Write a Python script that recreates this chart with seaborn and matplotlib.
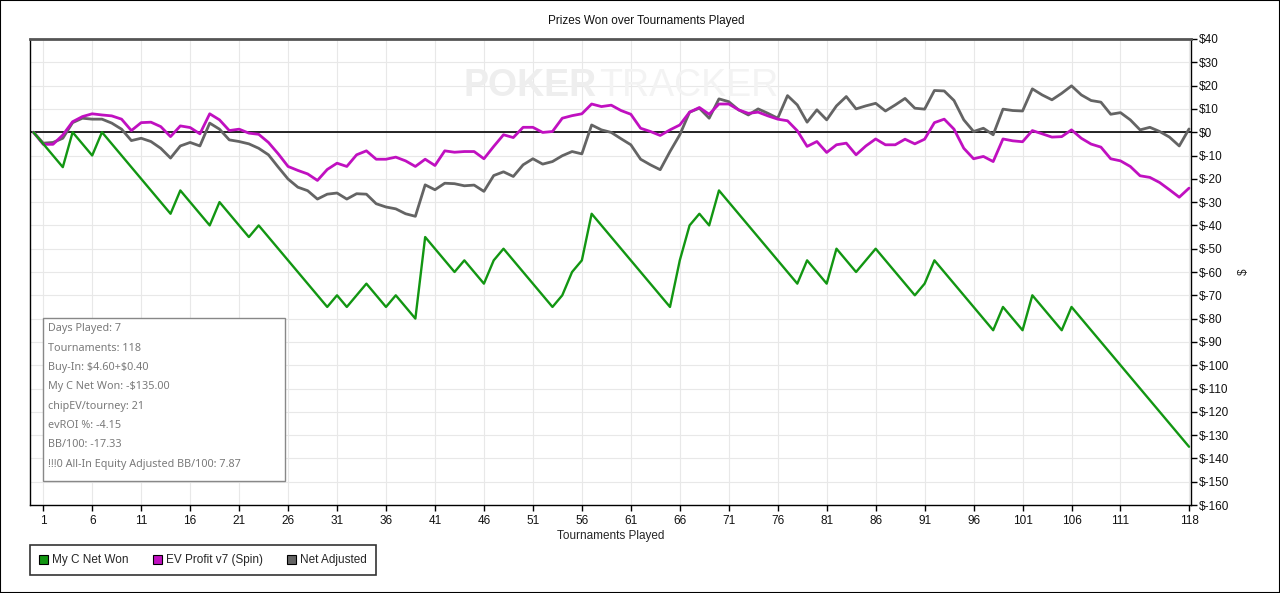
import matplotlib
matplotlib.use("Agg")
import matplotlib.pyplot as plt
from matplotlib.patches import Patch, Rectangle
from matplotlib.ticker import FuncFormatter
import seaborn as sns
import numpy as np
import pandas as pd

# tournament index (0 = start)
tournaments = list(range(0, 119))

# My C Net Won
net_won = [0, -5, -10, -15, 0, -5, -10, 0, -5, -10,
           -15, -20, -25, -30, -35, -25, -30, -35, -40, -30,
           -35, -40, -45, -40, -45, -50, -55, -60, -65, -70,
           -75, -70, -75, -70, -65, -70, -75, -70, -75, -80,
           -45, -50, -55, -60, -55, -60, -65, -55, -50, -55,
           -60, -65, -70, -75, -70, -60, -55, -35, -40, -45,
           -50, -55, -60, -65, -70, -75, -55, -40, -35, -40,
           -25, -30, -35, -40, -45, -50, -55, -60, -65, -55,
           -60, -65, -50, -55, -60, -55, -50, -55, -60, -65,
           -70, -65, -55, -60, -65, -70, -75, -80, -85, -75,
           -80, -85, -70, -75, -80, -85, -75, -80, -85, -90,
           -95, -100, -105, -110, -115, -120, -125, -130, -135]

# EV Profit v7 (Spin)
ev_profit = [0, -5.2, -5.2, -1.2, 4.5, 6.7, 7.9, 7.4, 7.0, 5.6,
             0.7, 4.1, 4.3, 2.4, -1.9, 2.7, 2.0, -0.7, 7.9, 5.3,
             0.7, 1.3, -0.4, -0.9, -4.4, -9.3, -14.7, -16.4, -17.9, -20.7,
             -16.0, -13.3, -14.7, -9.7, -8.0, -11.6, -11.6, -10.7, -12.3, -14.7,
             -11.6, -14.3, -8.0, -8.6, -8.3, -8.3, -11.4, -6.1, -1.1, -2.3,
             2.1, 2.1, -0.1, 0.3, 6.0, 7.1, 7.9, 12.1, 11.0, 11.6,
             9.3, 7.7, 1.7, 0.3, -1.4, 1.0, 3.1, 8.6, 10.6, 7.7,
             12.1, 12.1, 9.6, 8.1, 8.6, 7.0, 5.6, 4.9, 0.6, -6.1,
             -4.0, -8.7, -5.4, -4.7, -9.7, -5.9, -2.9, -5.4, -5.4, -3.0,
             -5.0, -3.0, 4.1, 5.6, 1.3, -6.9, -11.4, -10.4, -12.6, -2.9,
             -3.7, -4.1, 0.7, -0.7, -2.1, -1.9, 1.0, -2.6, -5.1, -6.4,
             -11.4, -12.3, -14.7, -18.7, -19.4, -21.6, -24.7, -27.9, -24.0]

# Net Adjusted
net_adjusted = [0, -4.7, -4.4, -2.6, 4.1, 6.0, 5.6, 5.6, 3.9, 1.3,
                -3.6, -2.6, -4.0, -6.9, -11.1, -5.9, -4.4, -5.9, 3.9, 1.3,
                -3.3, -4.0, -5.0, -6.9, -9.7, -15.0, -20.1, -23.6, -25.1, -28.7,
                -26.6, -26.1, -28.7, -26.4, -26.6, -30.7, -32.1, -32.9, -35.0, -36.1,
                -22.6, -24.7, -21.9, -22.1, -23.0, -22.7, -25.4, -18.6, -17.0, -19.0,
                -14.0, -11.4, -13.7, -12.6, -10.1, -8.3, -9.3, 3.1, 1.0, -0.1,
                -2.8, -5.4, -11.6, -14.0, -16.1, -8.3, -1.1, 8.6, 10.3, 6.0,
                14.3, 13.1, 9.6, 7.4, 10.0, 8.1, 6.0, 15.7, 11.7, 4.3,
                9.6, 5.3, 11.3, 15.3, 10.0, 11.3, 12.4, 9.1, 11.7, 14.5,
                10.3, 9.9, 17.9, 17.7, 13.6, 5.3, 0.3, 1.7, -1.1, 9.9,
                9.3, 9.1, 18.6, 16.0, 13.9, 16.7, 19.9, 16.0, 13.6, 12.9,
                7.7, 8.4, 5.3, 1.0, 2.1, 0.3, -2.1, -5.9, 1.4]

series_names = ["My C Net Won", "EV Profit v7 (Spin)", "Net Adjusted"]
series_colors = ["#129612", "#c010c0", "#646464"]

x_ticks = [1, 6, 11, 16, 21, 26, 31, 36, 41, 46, 51, 56, 61, 66, 71, 76,
           81, 86, 91, 96, 101, 106, 111, 118]
y_ticks = list(range(-160, 41, 10))

stats_lines = ["Days Played: 7", "Tournaments: 118", "Buy-In: $4.60+$0.40",
               "My C Net Won: -$135.00", "chipEV/tourney: 21", "evROI %: -4.15",
               "BB/100: -17.33", "!!!0 All-In Equity Adjusted BB/100: 7.87"]

df = pd.DataFrame({"Tournament": tournaments,
                   "My C Net Won": net_won,
                   "EV Profit v7 (Spin)": ev_profit,
                   "Net Adjusted": net_adjusted})

sns.set_style("whitegrid")
plt.rcParams["font.family"] = ["Liberation Sans", "DejaVu Sans"]

W, H = 1280, 593
fig = plt.figure(figsize=(W / 100, H / 100), dpi=100)
ax = fig.add_axes([30 / W, 1 - 505 / H, (1191 - 30) / W, (505 - 39) / H])

ax.axhline(0, color="black", lw=1.2, zorder=1.5)

# drawing order: gray, magenta, green
for name in ["Net Adjusted", "EV Profit v7 (Spin)", "My C Net Won"]:
    c = series_colors[series_names.index(name)]
    lw = 1.7 if name == "My C Net Won" else 2.0
    sns.lineplot(data=df, x="Tournament", y=name, ax=ax, color=c, lw=lw, zorder=3)

ax.set_xlim(-0.35, 118.2)
ax.set_ylim(-160, 40)
ax.set_xticks(x_ticks)
ax.set_yticks(y_ticks)
ax.yaxis.tick_right()
ax.yaxis.set_label_position("right")
ax.yaxis.set_major_formatter(FuncFormatter(lambda v, p: f"${int(v)}"))
ax.tick_params(axis="both", labelsize=8.5, length=4, width=1, color="black",
               direction="out", pad=2, labelcolor="#111111")
ax.tick_params(axis="x", bottom=True, pad=3)
ax.tick_params(axis="y", right=True, left=False)
ax.grid(True, color="#e8e8e8", lw=0.8)
ax.set_xlabel("Tournaments Played", fontsize=8.5, labelpad=2)
ax.set_ylabel("$", fontsize=8.5, labelpad=6)

for side in ["left", "bottom", "right"]:
    ax.spines[side].set_color("black")
    ax.spines[side].set_linewidth(1.0)
ax.spines["top"].set_color("#555555")
ax.spines["top"].set_linewidth(2.0)

# watermark
fig.text(597 / W, 1 - 86 / H, "POKER", ha="right", va="center", fontsize=27,
         fontweight="bold", color="#eeeeee", zorder=0)
fig.text(599 / W, 1 - 86 / H, "TRACKER", ha="left", va="center", fontsize=27,
         color="#f3f3f3", zorder=0)

fig.text(0.505, 1 - 21 / H, "Prizes Won over Tournaments Played", ha="center",
         va="center", fontsize=8.5, color="#111111")

# stats box
fig.patches.append(Rectangle((43 / W, 1 - 481 / H), 242 / W, 163 / H,
                             transform=fig.transFigure, facecolor="white",
                             edgecolor="#888888", lw=1.0, zorder=4))
for i, line in enumerate(stats_lines):
    yp = 329 + i * 19.3
    fig.text(48 / W, 1 - yp / H, line, ha="left", va="center", fontsize=7.8,
             color="#7a7a7a", family=["Noto Sans", "DejaVu Sans"], zorder=5,
             parse_math=False)

handles = [Patch(facecolor=c, edgecolor="black", lw=0.8) for c in series_colors]
leg = fig.legend(handles, series_names, loc="lower left",
                 bbox_to_anchor=(30 / W, 18 / H), ncol=3, fontsize=8.5,
                 frameon=True, fancybox=False, handlelength=0.8, handleheight=0.8,
                 handletextpad=0.35, columnspacing=2.0, borderpad=0.75,
                 borderaxespad=0)
leg.get_frame().set_edgecolor("black")
leg.get_frame().set_linewidth(1.2)

fig.patches.append(Rectangle((0, 0), 1, 1, transform=fig.transFigure,
                             fill=False, edgecolor="black", lw=1.5))

fig.savefig("out.png", dpi=100, facecolor="white")
